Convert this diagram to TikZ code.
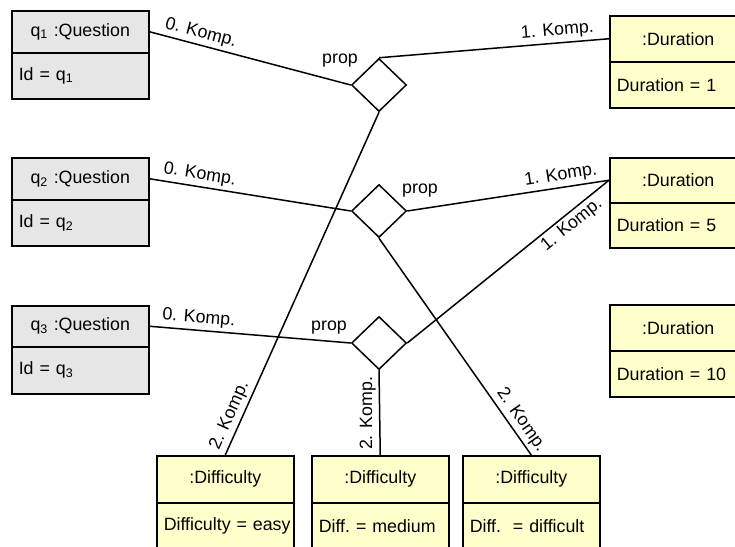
\documentclass[tikz,border=0pt]{standalone}
\usepackage{fontspec}
\setmainfont{Liberation Sans}
\usetikzlibrary{shapes.geometric}
\definecolor{qgray}{RGB}{230,230,230}
\definecolor{uyellow}{RGB}{255,255,204}
\tikzset{
  box/.style={draw, line width=1.5pt, inner xsep=7pt, inner ysep=0pt,
    text width=123pt, anchor=north west},
  hdr/.style={box, align=center},
  attr/.style={box, align=left},
  qbox/.style={fill=qgray},
  ybox/.style={fill=uyellow},
  prel/.style={draw, diamond, line width=1.5pt, fill=white,
    minimum width=55pt, minimum height=53pt, inner sep=0pt},
  conn/.style={line width=1.5pt},
  lbl/.style={inner sep=1pt}
}
\newcommand{\qn}[1]{q\textsubscript{#1}}
\begin{document}
\begin{tikzpicture}[x=1pt, y=-1pt, font=\fontsize{17.8}{20}\selectfont]
\useasboundingbox (0,0) rectangle (735,546);

% question objects
\node[hdr, qbox, minimum height=42pt] (q1h) at (11,10) {\qn{1} :Question};
\node[attr, qbox, minimum height=46pt] (q1a) at (11,52) {Id = \qn{1}};
\node[hdr, qbox, minimum height=42pt] (q2h) at (11,157) {\qn{2} :Question};
\node[attr, qbox, minimum height=46pt] (q2a) at (11,199) {Id = \qn{2}};
\node[hdr, qbox, minimum height=41pt] (q3h) at (11,305) {\qn{3} :Question};
\node[attr, qbox, minimum height=47pt] (q3a) at (11,346) {Id = \qn{3}};

% duration objects
\node[hdr, ybox, minimum height=46pt] (d1h) at (609,15) {:Duration};
\node[attr, ybox, minimum height=46pt] (d1a) at (609,61) {Duration = 1};
\node[hdr, ybox, minimum height=45pt] (d2h) at (609,157) {:Duration};
\node[attr, ybox, minimum height=45pt] (d2a) at (609,202) {Duration = 5};
\node[hdr, ybox, minimum height=46pt] (d3h) at (609,304) {:Duration};
\node[attr, ybox, minimum height=46pt] (d3a) at (609,350) {Duration = 10};

% difficulty objects
\node[hdr, ybox, minimum height=47pt] (f1h) at (156,455) {:Difficulty};
\node[attr, ybox, minimum height=47pt] (f1a) at (156,502) {\mbox{Difficulty = easy}};
\node[hdr, ybox, minimum height=47pt] (f2h) at (311,455) {:Difficulty};
\node[attr, ybox, minimum height=47pt] (f2a) at (311,502) {\mbox{Diff.\ = medium}};
\node[hdr, ybox, minimum height=47pt] (f3h) at (462,455) {:Difficulty};
\node[attr, ybox, minimum height=47pt] (f3a) at (462,502) {\mbox{Diff.\ \ = difficult}};

% ternary links
\node[prel] (p1) at (379,85) {};
\node[prel] (p2) at (379,211) {};
\node[prel] (p3) at (379,343) {};
\node[lbl] (p1l) at (340,61) {prop};
\node[lbl] (p2l) at (420,191) {prop};
\node[lbl] (p3l) at (329,328) {prop};

% components
\draw[conn] (q1h.east) -- node[lbl, sloped, above=2pt, pos=0.24] {0. Komp.} (p1.west);
\draw[conn] (p1.north) -- node[lbl, sloped, above=2pt, pos=0.78] {1. Komp.} (d1h.west);
\draw[conn] (f1h.north) -- node[lbl, sloped, above=2pt, pos=0.1] {2. Komp.} (p1.south);

\draw[conn] (q2h.east) -- node[lbl, sloped, above=2pt, pos=0.24] {0. Komp.} (p2.west);
\draw[conn] (p2.east) -- node[lbl, sloped, above=2pt, pos=0.77] {1. Komp.} (d2h.west);
\draw[conn] (p2.south) -- node[lbl, sloped, above=2pt, pos=0.87] {2. Komp.} (f3h.north);

\draw[conn] (q3h.east) -- node[lbl, sloped, above=2pt, pos=0.24] {0. Komp.} (p3.west);
\draw[conn] (p3.east) -- node[lbl, sloped, below=2pt, pos=0.78] {1. Komp.} (d2h.west);
\draw[conn] (f2h.north) -- node[lbl, rotate=90, anchor=south, inner sep=3pt, pos=0.49] {2. Komp.} (p3.south);
\end{tikzpicture}
\end{document}
